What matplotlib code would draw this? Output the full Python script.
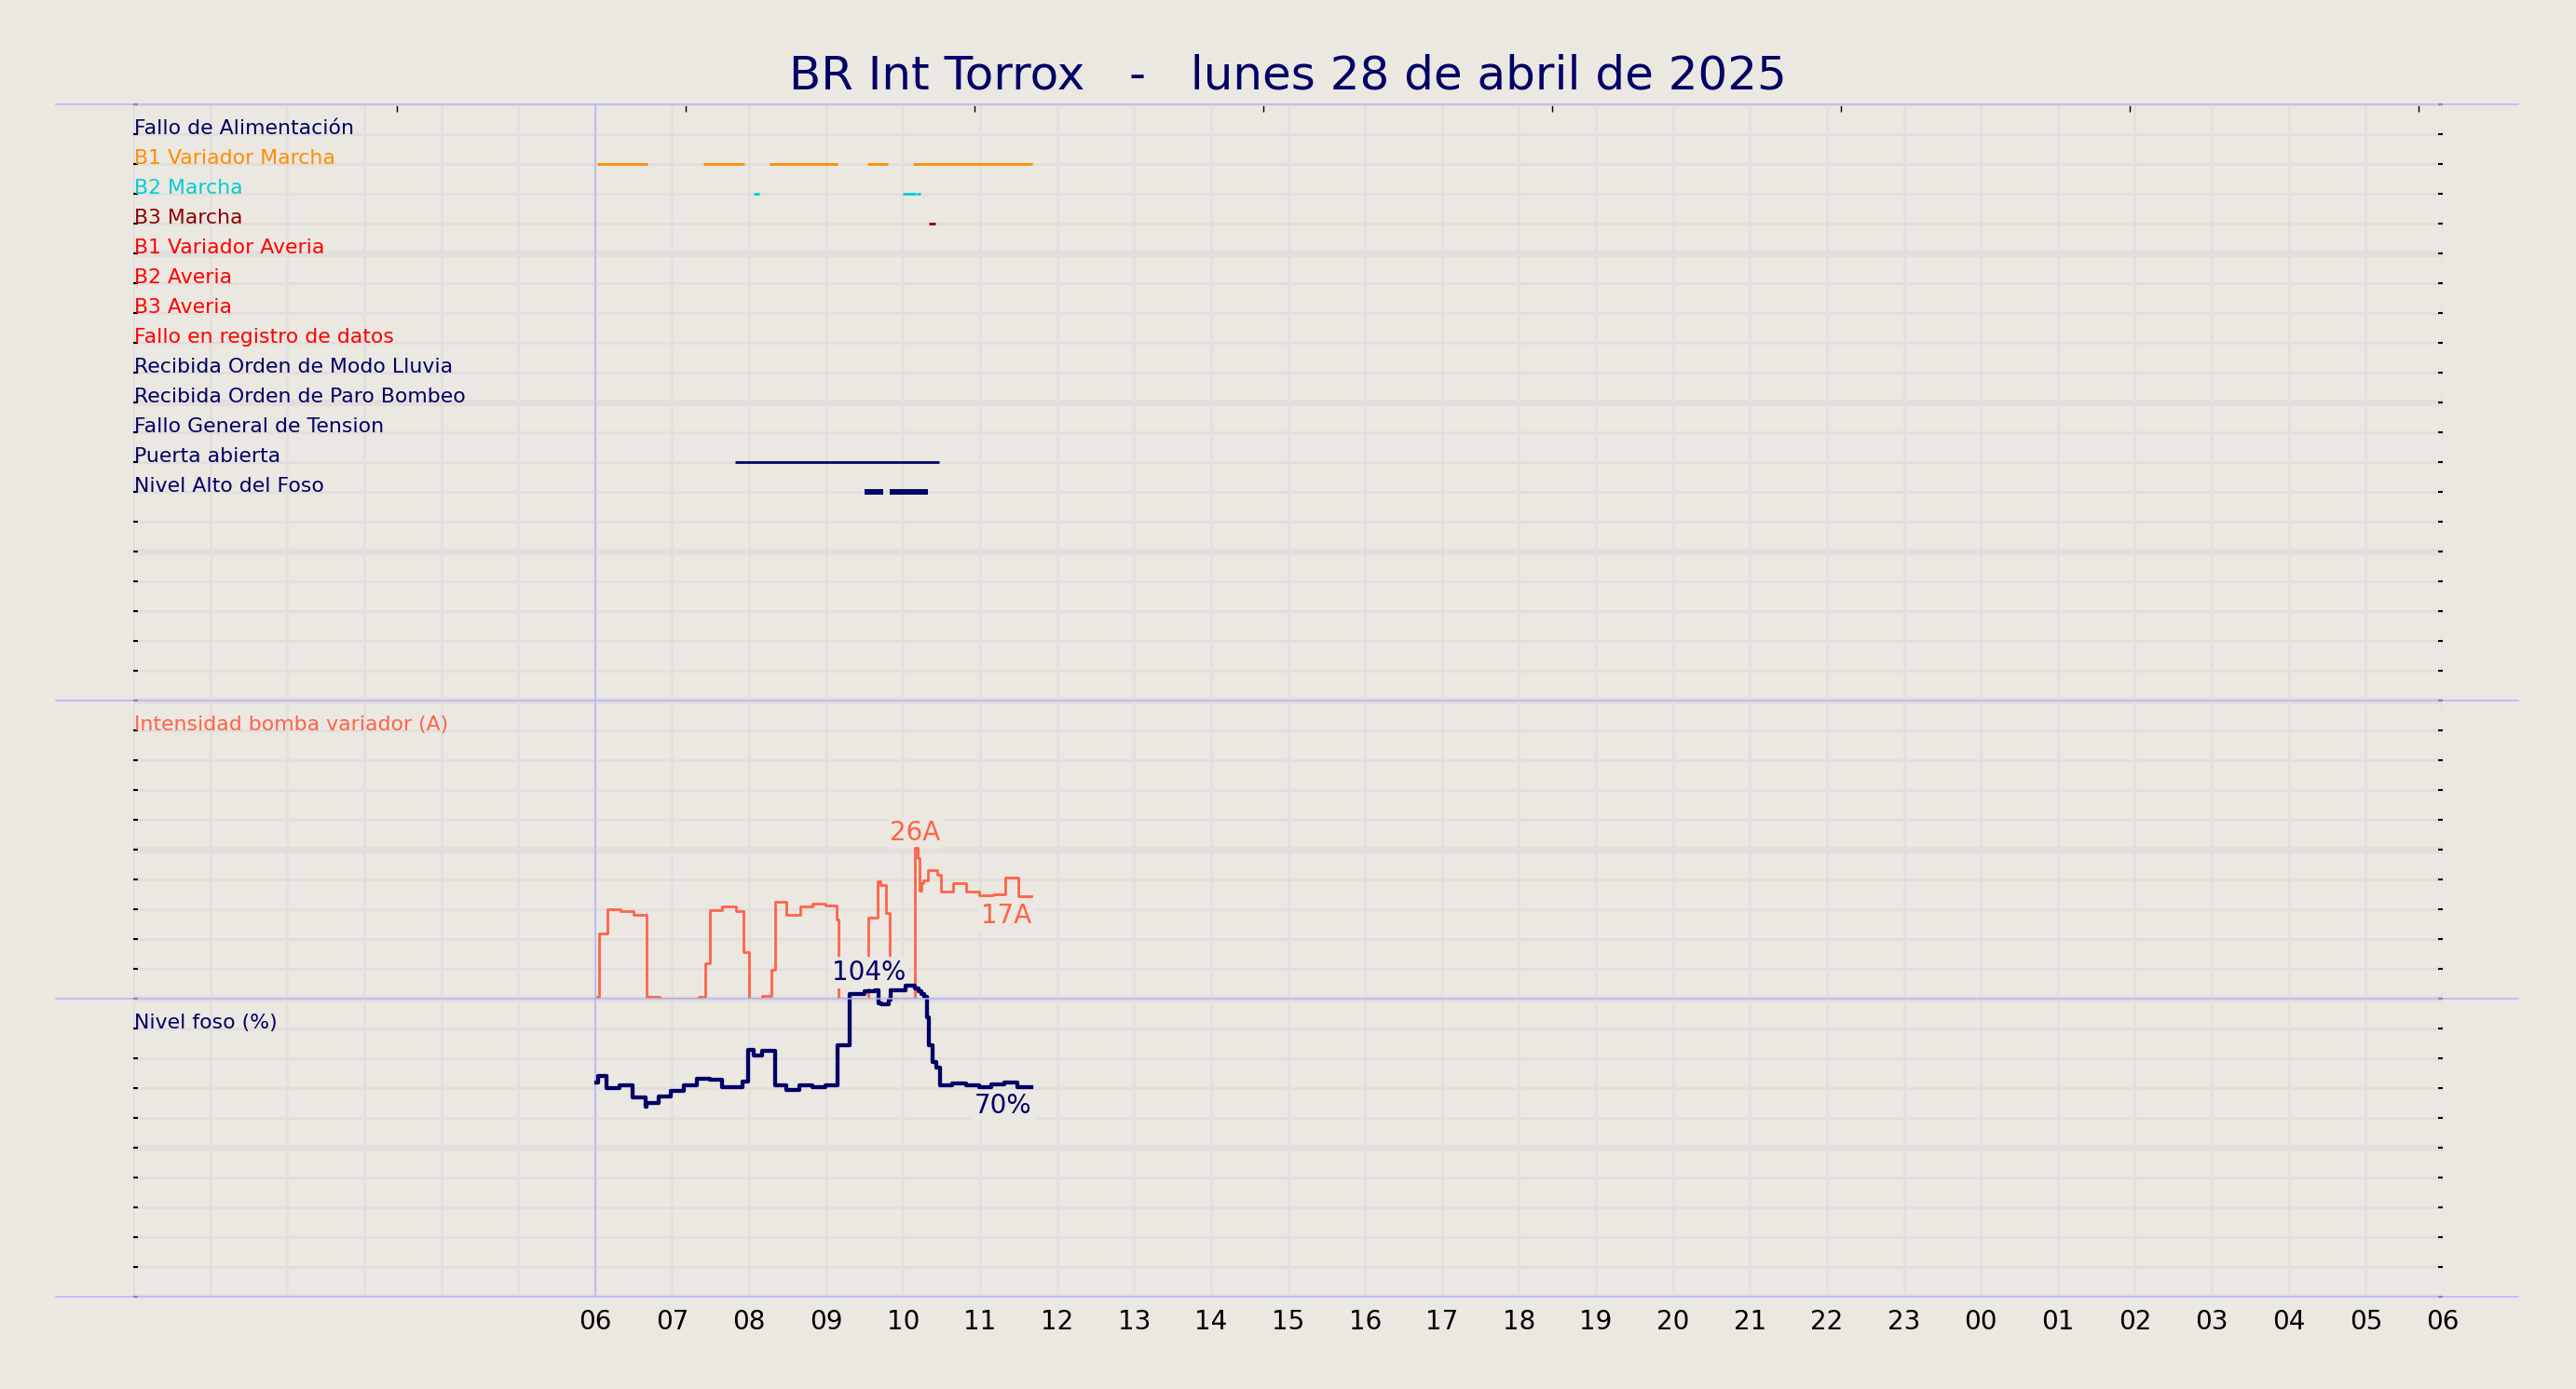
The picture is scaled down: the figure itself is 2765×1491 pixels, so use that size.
import matplotlib
matplotlib.use("Agg")
import matplotlib.pyplot as plt
import matplotlib.transforms as mtransforms
from matplotlib.lines import Line2D

# colours
bg = '#ebe7e1'
grid_c = '#e2dedc'
lav = '#b4b4ff'
navy = '#000066'
tomato = '#ff6347'

title = 'BR Int Torrox   -   lunes 28 de abril de 2025'

# digital signals: (label, colour, [(start_h, end_h), ...]) ; hours from 00:00
sig_labels = ['Fallo de Alimentación', 'B1 Variador Marcha', 'B2 Marcha', 'B3 Marcha',
              'B1 Variador Averia', 'B2 Averia', 'B3 Averia', 'Fallo en registro de datos',
              'Recibida Orden de Modo Lluvia', 'Recibida Orden de Paro Bombeo',
              'Fallo General de Tension', 'Puerta abierta', 'Nivel Alto del Foso']
sig_colors = [navy, 'darkorange', 'darkturquoise', 'darkred', 'red', 'red', 'red', 'red',
              navy, navy, navy, navy, navy]
sig_widths = [2, 2, 2, 2, 2, 2, 2, 2, 2, 2, 2, 2, 4.3]
sig_periods = [
    [],
    [(6.03, 6.685), (7.41, 7.94), (8.27, 9.15), (9.54, 9.80), (10.13, 11.68)],
    [(8.06, 8.13), (10.0, 10.17), (10.18, 10.23)],
    [(10.34, 10.42)],
    [], [], [], [], [], [], [],
    [(7.82, 10.47)],
    [(9.50, 9.74), (9.83, 10.32)],
]

# intensidad bomba variador (A)
cur_t = [6.03, 6.048, 6.156, 6.330, 6.495, 6.668, 6.834, 7.341, 7.430, 7.495, 7.652, 7.825,
         7.922, 7.998, 8.164, 8.285, 8.333, 8.486, 8.659, 8.828, 8.990, 9.139, 9.159, 9.554,
         9.667, 9.707, 9.784, 9.828, 10.159, 10.191, 10.211, 10.239, 10.268, 10.320, 10.449,
         10.489, 10.651, 10.824, 10.985, 11.166, 11.328, 11.497, 11.670]
cur_a = [0.3, 11.4, 15.6, 15.2, 14.7, 0.3, 0.0, 0.3, 6.2, 15.4, 16.1, 15.2,
         8.1, 0.0, 0.5, 5.0, 16.9, 14.6, 16.1, 16.5, 16.25, 13.8, 0.0, 14.2,
         20.4, 19.8, 14.9, 0.0, 26.4, 24.5, 18.8, 20.1, 20.7, 22.5, 21.6,
         18.7, 20.2, 18.7, 18.1, 18.25, 21.1, 17.8, 17.8]

# nivel foso (%)
lvl_t = [6.02, 6.036, 6.148, 6.318, 6.491, 6.650, 6.665, 6.826, 6.987, 7.148, 7.317, 7.486,
         7.652, 7.914, 7.982, 8.063, 8.164, 8.333, 8.486, 8.647, 8.828, 8.990, 9.151, 9.312,
         9.494, 9.635, 9.687, 9.715, 9.816, 9.836, 10.038, 10.159, 10.20, 10.239, 10.280,
         10.308, 10.340, 10.380, 10.433, 10.481, 10.642, 10.824, 10.985, 11.146, 11.316,
         11.489, 11.670]
lvl_v = [72.0, 74.1, 69.9, 71.0, 66.9, 63.6, 65.0, 67.1, 69.2, 70.9, 73.2, 72.7,
         70.4, 72.3, 82.7, 80.8, 82.5, 71.0, 69.4, 70.8, 70.4, 70.8, 84.5, 101.7,
         102.5, 102.7, 98.5, 98.0, 99.8, 102.7, 104.3, 103.5, 102.5, 101.5, 100.6,
         93.8, 84.5, 78.8, 76.9, 70.9, 71.7, 70.8, 70.4, 71.1, 72.0,
         70.4, 70.4]

hour_ticks = list(range(0, 31))
hour_labels = ['', '', '', '', '', '', '06', '07', '08', '09', '10', '11', '12', '13', '14',
               '15', '16', '17', '18', '19', '20', '21', '22', '23', '00', '01', '02', '03',
               '04', '05', '06']
top_ticks = [3.43, 7.18, 10.93, 14.68, 18.43, 22.18, 25.93, 29.68]

W, H = 2765, 1491
fig = plt.figure(figsize=(W / 100, H / 100), dpi=100, facecolor=bg)
gs = fig.add_gridspec(3, 1, height_ratios=[20, 10, 10], hspace=0,
                      left=143 / W, right=2622 / W, top=1 - 112 / H, bottom=1 - 1392 / H)
ax1 = fig.add_subplot(gs[0])
ax2 = fig.add_subplot(gs[1], sharex=ax1)
ax3 = fig.add_subplot(gs[2], sharex=ax1)


def style(ax, lo, hi, major, minor):
    ax.set_facecolor(bg)
    for s in ax.spines.values():
        s.set_visible(False)
    ax.set_ylim(lo, hi)
    ax.set_yticks(major)
    ax.set_yticks(minor, minor=True)
    ax.yaxis.grid(True, which='major', color=grid_c, lw=5, zorder=0)
    ax.yaxis.grid(True, which='minor', color=grid_c, lw=2, zorder=0)
    ax.xaxis.grid(True, which='major', color=grid_c, lw=1.8, zorder=0)
    ax.tick_params(axis='y', which='both', direction='in', length=3.5, width=1.5,
                   left=True, right=True, labelleft=False, labelright=False, color='black')
    ax.tick_params(axis='x', length=0, labelbottom=False)
    ax.set_axisbelow(True)
    ax.axvline(6, color=lav, lw=1.1, zorder=1)


ax1.set_xlim(0, 30)
ax1.set_xticks(hour_ticks)
style(ax1, 20, 0, [5, 10, 15, 20], list(range(0, 21)))
style(ax2, 0, 52, [0, 26, 52], [5.2 * k for k in range(11)])
style(ax3, 0, 100, [0, 50, 100], list(range(0, 101, 10)))

ax3.set_xticklabels(hour_labels)
ax3.tick_params(axis='x', labelbottom=True, labelsize=20, pad=9, length=0)

# top panel: digital signals
for i, (lab, col, lw, per) in enumerate(zip(sig_labels, sig_colors, sig_widths, sig_periods)):
    row = i + 1
    ax1.text(0.01, row, lab, color=col, fontsize=15.8, ha='left', va='baseline', zorder=4)
    if per:
        ax1.hlines([row] * len(per), [p[0] for p in per], [p[1] for p in per],
                   colors=col, lw=lw, zorder=3)

secax = ax1.secondary_xaxis('top')
secax.set_xticks(top_ticks)
secax.tick_params(direction='in', length=5.5, width=1, labeltop=False, color='black')
secax.spines['top'].set_visible(False)

# intensidad
ax2.text(0.01, 46.8, 'Intensidad bomba variador (A)', color=tomato, fontsize=15.8,
         ha='left', va='baseline')
ax2.plot(cur_t, cur_a, drawstyle='steps-post', color=tomato, lw=2, zorder=3)
imax = cur_a.index(max(cur_a))
box = dict(facecolor=bg, edgecolor='none', pad=2)
ax2.annotate(f'{int(cur_a[imax])}A', (cur_t[imax], cur_a[imax]), xytext=(0, 1),
             textcoords='offset points', ha='center', va='bottom', fontsize=20,
             color=tomato, bbox=box, zorder=2.5)
ax2.annotate(f'{int(cur_a[-1])}A', (cur_t[-1], cur_a[-1]), xytext=(0, -4.5),
             textcoords='offset points', ha='right', va='top',
             fontsize=20, color=tomato, bbox=box, zorder=2.5)

# nivel foso
ax3.text(0.01, 90, 'Nivel foso (%)', color=navy, fontsize=15.8, ha='left', va='baseline')
ax3.plot(lvl_t, lvl_v, drawstyle='steps-post', color=navy, lw=3.1, zorder=3, clip_on=False)
lmax = lvl_v.index(max(lvl_v))
ax3.annotate(f'{int(lvl_v[lmax])}%', (lvl_t[lmax], lvl_v[lmax]), ha='right', va='bottom',
             fontsize=20, color=navy, bbox=box, zorder=2.5, annotation_clip=False)
ax3.annotate(f'{int(lvl_v[-1])}%', (lvl_t[-1], lvl_v[-1]), xytext=(0, -4.5),
             textcoords='offset points', ha='right', va='top',
             fontsize=20, color=navy, bbox=box, zorder=2.5)

# separator lines across the figure
for ax, yy in [(ax1, 1), (ax1, 0), (ax2, 0), (ax3, 0)]:
    tr = mtransforms.blended_transform_factory(fig.transFigure, ax.transAxes)
    fig.add_artist(Line2D([60 / W, 2703 / W], [yy, yy], transform=tr, color=lav,
                          lw=1.1, zorder=5))

fig.text(0.5, 1 - 81 / H, title, ha='center', va='center', fontsize=36, color=navy)

fig.savefig('out.png', dpi=100, facecolor=bg)
